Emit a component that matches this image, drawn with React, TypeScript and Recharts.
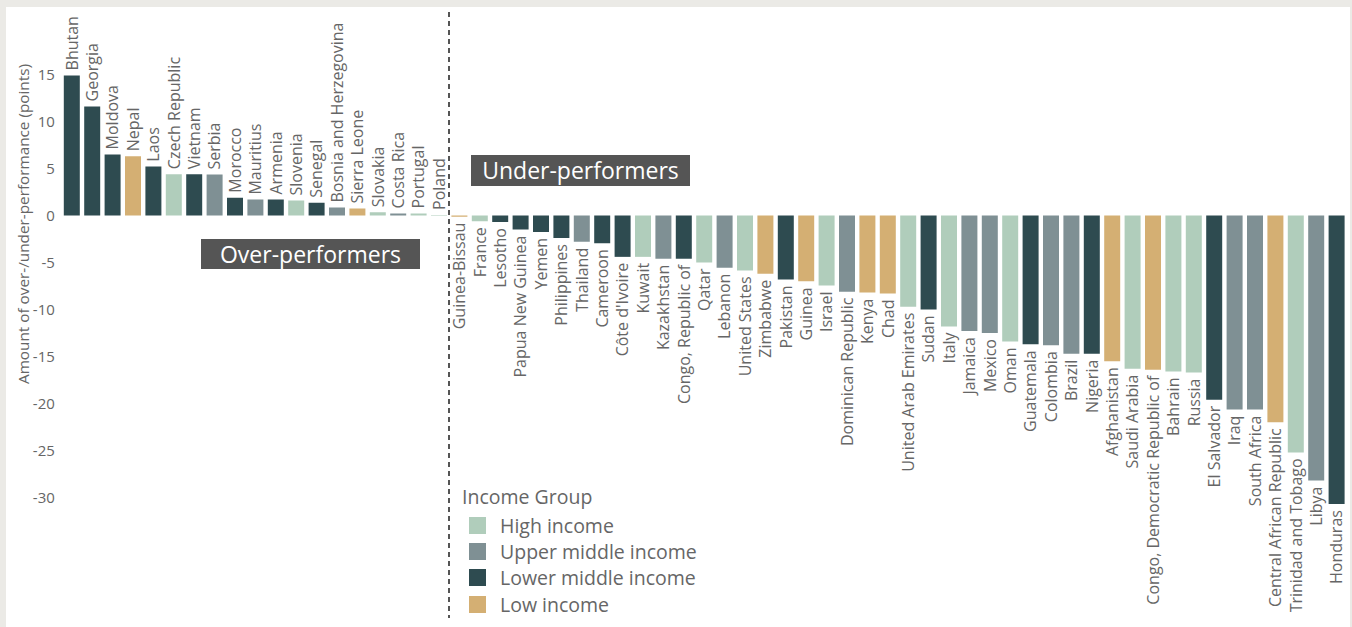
import React from "react";
import { Bar, BarChart, Cell, LabelList, XAxis, YAxis, Label } from "recharts";

const countries = [
  "Bhutan", "Georgia", "Moldova", "Nepal", "Laos", "Czech Republic", "Vietnam", "Serbia",
  "Morocco", "Mauritius", "Armenia", "Slovenia", "Senegal", "Bosnia and Herzegovina",
  "Sierra Leone", "Slovakia", "Costa Rica", "Portugal", "Poland",
  "Guinea-Bissau", "France", "Lesotho", "Papua New Guinea", "Yemen", "Philippines",
  "Thailand", "Cameroon", "Côte d'Ivoire", "Kuwait", "Kazakhstan", "Congo, Republic of",
  "Qatar", "Lebanon", "United States", "Zimbabwe", "Pakistan", "Guinea", "Israel",
  "Dominican Republic", "Kenya", "Chad", "United Arab Emirates", "Sudan", "Italy",
  "Jamaica", "Mexico", "Oman", "Guatemala", "Colombia", "Brazil", "Nigeria",
  "Afghanistan", "Saudi Arabia", "Congo, Democratic Republic of", "Bahrain", "Russia",
  "El Salvador", "Iraq", "South Africa", "Central African Republic",
  "Trinidad and Tobago", "Libya", "Honduras",
];

const scores = [
  14.9, 11.6, 6.5, 6.3, 5.2, 4.4, 4.4, 4.35, 1.9, 1.7, 1.7, 1.6, 1.35, 0.85, 0.75, 0.35,
  0.22, 0.22, 0.06,
  -0.12, -0.6, -0.7, -1.5, -1.75, -2.4, -2.8, -2.95, -4.4, -4.4, -4.6, -4.6, -5.0, -5.55,
  -5.85, -6.2, -6.8, -7.0, -7.45, -8.1, -8.2, -8.3, -9.7, -10.0, -11.8, -12.3, -12.5,
  -13.4, -13.7, -13.8, -14.7, -14.7, -15.5, -16.3, -16.4, -16.6, -16.7, -19.6, -20.65,
  -20.65, -22.0, -25.2, -28.2, -30.7,
];

const H = "High income";
const U = "Upper middle income";
const L = "Lower middle income";
const W = "Low income";

const incomeGroups = [
  L, L, L, W, L, H, L, U, L, U, L, H, L, U, W, H, U, H, H,
  W, H, L, L, L, L, U, L, L, H, U, L, H, U, H, W, L, W, H, U, W, W,
  H, L, H, U, U, H, L, U, U, L, W, H, W, H, H, L, U, U, W, H, U, L,
];

const legendGroups = [H, U, L, W];
const groupColors: Record<string, string> = {
  [H]: "#b0cdbb",
  [U]: "#7f9094",
  [L]: "#2e4b50",
  [W]: "#d4af73",
};

const yTicks = [15, 10, 5, 0, -5, -10, -15, -20, -25, -30];

const data = countries.map((name, i) => ({ name, score: scores[i], group: incomeGroups[i] }));
const scoreByName: Record<string, number> = {};
data.forEach((d) => (scoreByName[d.name] = d.score));

const FONT = "'Open Sans', Lato, sans-serif";

function CountryLabel(props: any) {
  const vb = props.viewBox ?? props;
  const x = vb.x ?? props.x;
  const y = vb.y ?? props.y;
  const w = vb.width ?? props.width;
  const h = vb.height ?? props.height;
  const name = String(props.value);
  const v = scoreByName[name] ?? 0;
  const top = Math.min(y, y + h);
  const bottom = Math.max(y, y + h);
  const cx = x + w / 2;
  const ay = v >= 0 ? top - 5 : bottom + 6;
  return (
    <text
      x={cx}
      y={ay}
      transform={`rotate(-90 ${cx} ${ay})`}
      dy="0.36em"
      textAnchor={v >= 0 ? "start" : "end"}
      fill="#666"
      fontSize={16}
      fontFamily={FONT}
    >
      {name}
    </text>
  );
}

function AxisTitle() {
  return (
    <text
      x={23}
      y={224}
      transform="rotate(-90 23 224)"
      textAnchor="middle"
      dy="0.36em"
      fill="#666"
      fontSize={15.3}
      fontFamily={FONT}
    >
      Amount of over-/under-performance (points)
    </text>
  );
}

const boxStyle: React.CSSProperties = {
  position: "absolute",
  width: 219,
  height: 31,
  background: "#555555",
  color: "#fff",
  fontSize: 23,
  lineHeight: "31px",
  textAlign: "center",
  fontFamily: FONT,
};

export default function App() {
  return (
    <div style={{ position: "relative", width: 1352, height: 627, background: "#ebeae6", overflow: "hidden", fontFamily: FONT }}>
      <style>{"body{margin:0}"}</style>
      <div style={{ position: "absolute", left: 6, top: 7, width: 1344, height: 620, background: "#fff" }} />
      <div style={{ position: "absolute", left: 0, top: 0 }}>
        <BarChart
          width={1352}
          height={627}
          data={data}
          margin={{ top: 8.7, right: 5, left: 11.8, bottom: 91.9 }}
          barSize={16}
        >
          <XAxis dataKey="name" hide />
          <YAxis
            type="number"
            domain={[-34, 22]}
            ticks={yTicks}
            allowDataOverflow
            width={50}
            axisLine={false}
            tickLine={false}
            tickSize={0}
            tickMargin={7}
            tick={{ fill: "#666", fontSize: 15, fontFamily: FONT }}
          >
            <Label content={<AxisTitle />} />
          </YAxis>
          <Bar dataKey="score" isAnimationActive={false}>
            {data.map((d) => (
              <Cell key={d.name} fill={groupColors[d.group]} />
            ))}
            <LabelList dataKey="name" content={<CountryLabel />} />
          </Bar>
        </BarChart>
      </div>
      <svg style={{ position: "absolute", left: 0, top: 0 }} width={1352} height={627}>
        <line x1={449} x2={449} y1={12} y2={618} stroke="#555" strokeWidth={2} strokeDasharray="5 4" />
      </svg>
      <div style={{ ...boxStyle, left: 201, top: 239, height: 30, lineHeight: "30px" }}>Over-performers</div>
      <div style={{ ...boxStyle, left: 471, top: 155 }}>Under-performers</div>
      <div style={{ position: "absolute", left: 462, top: 484, color: "#666", fontSize: 19.5 }}>
        <div style={{ height: 28, lineHeight: "26px" }}>Income Group</div>
        {legendGroups.map((g) => (
          <div key={g} style={{ display: "flex", alignItems: "center", height: 26.3 }}>
            <span style={{ display: "inline-block", width: 17, height: 17, background: groupColors[g], marginLeft: 7, marginRight: 14 }} />
            <span>{g}</span>
          </div>
        ))}
      </div>
    </div>
  );
}
